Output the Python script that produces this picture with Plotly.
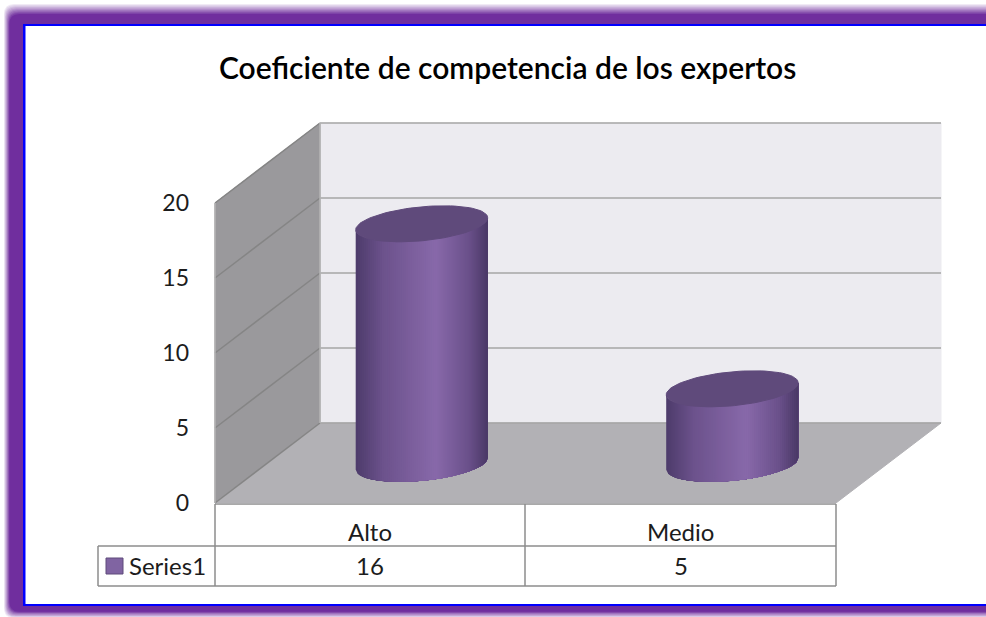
import numpy as np
import plotly.graph_objects as go

# Chart data
categories = ["Alto", "Medio"]
series_name = "Series1"
values = [16, 5]
y_ticks = [0, 5, 10, 15, 20]
title = "Coeficiente de competencia de los expertos"

# Page size and the oblique projection of the 3D box
W, H = 986, 617
X0_PX, Y0_PX = 215, 503     # pixel of category edge 0, value 0
CAT_PX, VAL_PX = 310.5, 15  # pixels per category and per value unit
DEPTH_X = 105 / CAT_PX      # shift of the back wall in axis units
DEPTH_Y = 80 / VAL_PX
FONT = "Lato"
TEXT_COL = "#1c1c1c"


def proj(x, v, depth=0.0):
    return x + depth * DEPTH_X, v + depth * DEPTH_Y


def px(x):
    return x / W


def py(y):
    return 1 - y / H


def poly(pts, color, width=1):
    xs = [p[0] for p in pts]
    ys = [p[1] for p in pts]
    return go.Scatter(x=xs, y=ys, mode="lines", fill="toself", fillcolor=color,
                      line=dict(color=color, width=width), hoverinfo="skip", showlegend=False)


def hline(pts, color, width=1.5):
    return go.Scatter(x=[p[0] for p in pts], y=[p[1] for p in pts], mode="lines",
                      line=dict(color=color, width=width), hoverinfo="skip", showlegend=False)


def body_color(s):
    stops = [(0, (78, 60, 108)), (0.2, (108, 82, 140)), (0.6, (136, 105, 170)),
             (0.85, (106, 80, 138)), (1, (72, 55, 100))]
    for (a, ca), (b, cb) in zip(stops, stops[1:]):
        if s <= b:
            f = (s - a) / (b - a)
            c = [round(ca[i] + (cb[i] - ca[i]) * f) for i in range(3)]
            return f"rgb({c[0]},{c[1]},{c[2]})"
    return "rgb(72,55,100)"


def frame_path(left, top, bottom, r):
    # rectangle open past the right edge of the page, rounded on the left
    x0, x1 = px(left), 1.05
    y0, y1 = py(top), py(bottom)
    rx, ry = r / W, r / H
    return (f"M {x1} {y0} L {x0 + rx} {y0} Q {x0} {y0} {x0} {y0 - ry} "
            f"L {x0} {y1 + ry} Q {x0} {y1} {x0 + rx} {y1} L {x1} {y1} Z")


fig = go.Figure()
n_cat = len(categories)
top = y_ticks[-1]

# Back wall, side wall and floor
fig.add_trace(poly([proj(0, 0, 1), proj(n_cat, 0, 1), proj(n_cat, top, 1), proj(0, top, 1)], "#ecebf0"))
fig.add_trace(poly([proj(0, 0, 0), proj(0, top, 0), proj(0, top, 1), proj(0, 0, 1)], "#9a999c"))
fig.add_trace(poly([proj(0, 0, 0), proj(n_cat, 0, 0), proj(n_cat, 0, 1), proj(0, 0, 1)], "#b2b1b5"))

# Gridlines, darker on the side wall, and the lighter wall edges
for t in y_ticks:
    fig.add_trace(hline([proj(0, t, 0), proj(0, t, 1)], "#858585"))
    fig.add_trace(hline([proj(0, t, 1), proj(n_cat, t, 1)], "#a6a6a6"))
fig.add_trace(hline([proj(0, 0, 0), proj(0, top, 0)], "#b5b5b5"))
fig.add_trace(hline([proj(0, 0, 1), proj(0, top, 1)], "#b5b5b5"))

# Cylinders: each strip runs to the right edge and the next one paints over it
RX = 66 / CAT_PX
RY = 17 / VAL_PX
TILT = 6 / VAL_PX
for i, val in enumerate(values):
    cx, base = proj(i + 0.5, 0, 0.49)
    ss = np.linspace(0, 1, 67)
    t = np.arccos(1 - 2 * ss)
    ex = cx - RX * np.cos(t)
    ey = -TILT * np.cos(t) - RY * np.sin(t)
    for j in range(len(t) - 1):
        low = list(zip(ex[j:], base + ey[j:]))
        upp = list(zip(ex[j:], base + val + ey[j:]))
        fig.add_trace(poly(low + upp[::-1], body_color(ss[j]), width=0))
    t = np.linspace(0, 2 * np.pi, 91)
    tx = cx + RX * np.cos(t)
    ty = base + val + TILT * np.cos(t) + RY * np.sin(t)
    fig.add_trace(poly(list(zip(tx, ty)), "#5f4a7b"))

# Frame: soft purple glow, blue line, white inside
shapes = []
steps = 10
for k in range(steps):
    f = (k + 1) / steps
    col = f"rgb({round(255 + (112 - 255) * f)},{round(255 + (46 - 255) * f)},{round(255 + (158 - 255) * f)})"
    shapes.append(dict(type="path", xref="paper", yref="paper",
                       path=frame_path(4 + 0.6 * k, 4 + 1.1 * k, 618 - 0.7 * k, 10),
                       fillcolor=col, line_width=0, layer="below"))
shapes.append(dict(type="rect", xref="paper", yref="paper", x0=px(23), x1=1.05, y0=py(606), y1=py(24),
                   fillcolor="#0000ff", line_width=0, layer="below"))
shapes.append(dict(type="rect", xref="paper", yref="paper", x0=px(25.5), x1=1.05, y0=py(604), y1=py(26),
                   fillcolor="white", line_width=0, layer="below"))

# Data table lines below the chart
table_col = "#8c8c8c"
table_x = [215, 525, 836]
for a, b, c, d in [(215, 504, 836, 504), (98, 546, 836, 546), (98, 586, 836, 586),
                   (98, 546, 98, 586), (215, 504, 215, 586), (525, 504, 525, 586), (836, 504, 836, 586)]:
    shapes.append(dict(type="line", xref="paper", yref="paper", x0=px(a), x1=px(c), y0=py(b), y1=py(d),
                       line=dict(color=table_col, width=1.5), layer="below"))
shapes.append(dict(type="rect", xref="paper", yref="paper", x0=px(106), x1=px(123), y0=py(574), y1=py(558),
                   fillcolor="#8064a2", line=dict(color="#5f4a7b", width=1), layer="below"))


def label(text, x, y, size, anchor="center", weight=400, color=TEXT_COL):
    return dict(text=text, xref="paper", yref="paper", x=px(x), y=py(y), xanchor=anchor, yanchor="middle",
                showarrow=False, font=dict(family=FONT, size=size, color=color, weight=weight))


annotations = [label(title, 507, 67, 30, weight=600, color="black")]
for i, (cat, val) in enumerate(zip(categories, values)):
    mid = (table_x[i] + table_x[i + 1]) / 2
    annotations.append(label(cat, mid, 531, 24))
    annotations.append(label(str(val), mid, 565, 24))
annotations.append(label(series_name, 127, 565, 24, anchor="left"))

fig.update_layout(
    width=W,
    height=H,
    margin=dict(l=0, r=0, t=0, b=0),
    paper_bgcolor="white",
    plot_bgcolor="rgba(0,0,0,0)",
    showlegend=False,
    shapes=shapes,
    annotations=annotations,
    xaxis=dict(range=[-X0_PX / CAT_PX, (W - X0_PX) / CAT_PX], visible=False, fixedrange=True),
    yaxis=dict(range=[(Y0_PX - H) / VAL_PX, Y0_PX / VAL_PX], anchor="free", position=px(189),
               tickvals=y_ticks, ticks="", showgrid=False, zeroline=False, showline=False,
               tickfont=dict(family=FONT, size=23, color=TEXT_COL), fixedrange=True),
)

fig.write_html("out.html", config={"displayModeBar": False},
               post_script="document.body.style.margin='0';document.body.style.overflow='hidden';")
